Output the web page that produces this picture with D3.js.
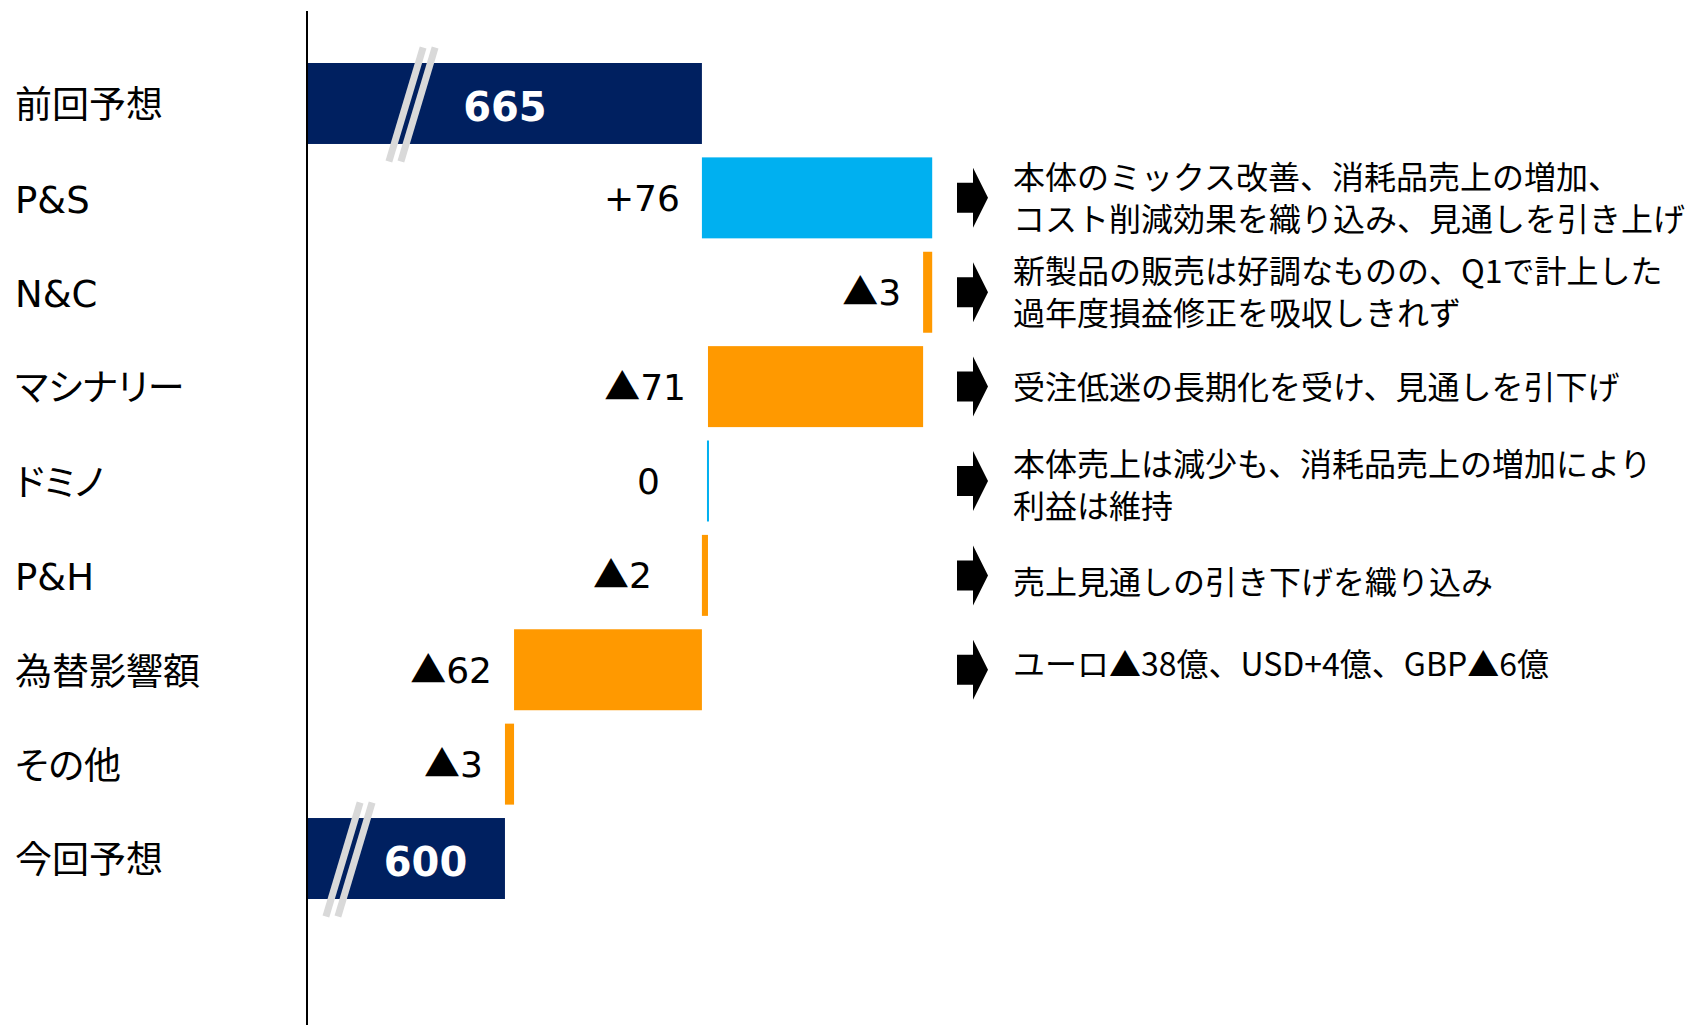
<!DOCTYPE html>
<html>
<head>
<meta charset="utf-8">
<script src="https://cdn.jsdelivr.net/npm/d3@7"></script>
<style>
  body { margin: 0; background: #fff; }
  text { font-family: "DejaVu Sans", "Noto Sans CJK JP", sans-serif; }
  .cat { font-feature-settings: "palt"; }
  .note { font-family: "Noto Sans CJK JP", sans-serif; }
  .tri { font-family: "Noto Sans CJK JP", sans-serif; }
</style>
</head>
<body>
<script>

// data
var categories = ["前回予想", "P&S", "N&C", "マシナリー", "ドミノ", "P&H", "為替影響額", "その他", "今回予想"];
var kinds      = ["total", "delta", "delta", "delta", "delta", "delta", "delta", "delta", "total"];
var values     = [665, 76, -3, -71, 0, -2, -62, -3, 600];
var valueLabels = ["665", "+76", "▲3", "▲71", "0", "▲2", "▲62", "▲3", "600"];
var notes = [
  [],
  ["本体のミックス改善、消耗品売上の増加、", "コスト削減効果を織り込み、見通しを引き上げ"],
  ["新製品の販売は好調なものの、Q1で計上した", "過年度損益修正を吸収しきれず"],
  ["受注低迷の長期化を受け、見通しを引下げ"],
  ["本体売上は減少も、消耗品売上の増加により", "利益は維持"],
  ["売上見通しの引き下げを織り込み"],
  ["ユーロ▲38億、USD+4億、GBP▲6億"],
  [],
  []
];

// layout bits (not data)
var labelGap = [0, 22, 22, 22, 48, 50, 22, 22, 0];
var totalLabelDx = [0, 0, 0, 0, 0, 0, 0, 0, 19];
var breakOffset = [104, 0, 0, 0, 0, 0, 0, 0, 41];
var noteDy = [0, 0, 0, 0, 4, 6, -6, 0, 0];

var width = 1701,
    height = 1025;

var colors = { total: "#002060", up: "#00B0F0", down: "#FF9900" };

var svg = d3.select("body").append("svg")
    .attr("width", width)
    .attr("height", height);

var y = d3.scaleBand()
    .domain(categories)
    .range([56.3, 905.7])
    .paddingInner(0.142)
    .paddingOuter(0.071);

var x = d3.scaleLinear()
    .domain([535, 741])
    .range([308, 932.2]);

// running totals for the waterfall
var run = 0;
var rows = categories.map(function(c, i) {
  var r = { cat: c, kind: kinds[i], value: values[i], label: valueLabels[i], i: i };
  if (kinds[i] == "total") {
    r.start = x.domain()[0];
    r.end = values[i];
    run = values[i];
  } else {
    r.start = run;
    r.end = run + values[i];
    run = r.end;
  }
  return r;
});

function barColor(d) {
  if (d.kind == "total") return colors.total;
  return d.value < 0 ? colors.down : colors.up;
}

// bars
svg.append("g").selectAll("rect")
  .data(rows)
  .enter().append("rect")
    .attr("x", function(d) {
      var x0 = Math.min(x(d.start), x(d.end));
      return d.value == 0 ? x0 - 1 : x0;
    })
    .attr("y", function(d) { return y(d.cat); })
    .attr("width", function(d) { return Math.max(Math.abs(x(d.end) - x(d.start)), 2); })
    .attr("height", y.bandwidth())
    .attr("fill", barColor);

// axis break marks on the two totals
var totals = rows.filter(function(d) { return d.kind == "total"; });
totals.forEach(function(d) {
  var cx = x.range()[0] + breakOffset[d.i],
      cy = y(d.cat) + y.bandwidth() / 2 + 1,
      hh = 57, sl = 0.3 * hh;
  [-6, 6].forEach(function(off) {
    svg.append("line")
      .attr("x1", cx + off + sl).attr("y1", cy - hh)
      .attr("x2", cx + off - sl).attr("y2", cy + hh)
      .attr("stroke", "#d9d9d9")
      .attr("stroke-width", 7);
  });
});

// value labels
var vl = svg.append("g").selectAll("text")
  .data(rows)
  .enter().append("text")
    .attr("x", function(d) {
      if (d.kind == "total") return (x(d.start) + x(d.end)) / 2 + totalLabelDx[d.i];
      return Math.min(x(d.start), x(d.end)) - labelGap[d.i];
    })
    .attr("y", function(d) { return y(d.cat) + y.bandwidth() / 2; })
    .attr("dy", function(d) { return d.kind == "total" ? "0.43em" : "0.36em"; })
    .attr("text-anchor", function(d) { return d.kind == "total" ? "middle" : "end"; })
    .attr("font-size", function(d) { return d.kind == "total" ? 40 : 36; })
    .attr("font-weight", function(d) { return d.kind == "total" ? "bold" : "normal"; })
    .attr("fill", function(d) { return d.kind == "total" ? "#fff" : "#000"; });

// the ▲ comes from the CJK font (wider, like the original)
vl.each(function(d) {
  var t = d3.select(this);
  if (d.label.charAt(0) == "▲") {
    t.append("tspan").attr("class", "tri").text("▲");
    t.append("tspan").text(d.label.slice(1));
  } else {
    t.text(d.label);
  }
});

// category labels
svg.append("g").selectAll("text")
  .data(rows)
  .enter().append("text")
    .attr("class", "cat")
    .attr("x", 15)
    .attr("y", function(d) { return y(d.cat) + y.bandwidth() / 2; })
    .attr("dy", "0.4em")
    .attr("font-size", 37)
    .attr("fill", "#000")
    .text(function(d) { return d.cat; });

// vertical axis
svg.append("line")
  .attr("x1", 307).attr("x2", 307)
  .attr("y1", 11).attr("y2", height)
  .attr("stroke", "#000")
  .attr("stroke-width", 2);

// arrows + comments
var noteRows = rows.filter(function(d) { return notes[d.i].length > 0; });
var lineH = 42;

var ng = svg.append("g").selectAll("g")
  .data(noteRows)
  .enter().append("g")
    .attr("transform", function(d) { return "translate(957," + (y(d.cat) + y.bandwidth() / 2) + ")"; });

ng.append("path")
  .attr("d", "M0,-15H16V-30L31,0L16,30V15H0Z")
  .attr("fill", "#000");

ng.each(function(d) {
  var lines = notes[d.i];
  var g = d3.select(this);
  lines.forEach(function(t, j) {
    g.append("text")
      .attr("class", "note")
      .attr("x", 56)
      .attr("y", noteDy[d.i] + (j - (lines.length - 1) / 2) * lineH)
      .attr("dy", "0.38em")
      .attr("font-size", 32)
      .attr("fill", "#000")
      .text(t);
  });
});

</script>
</body>
</html>
